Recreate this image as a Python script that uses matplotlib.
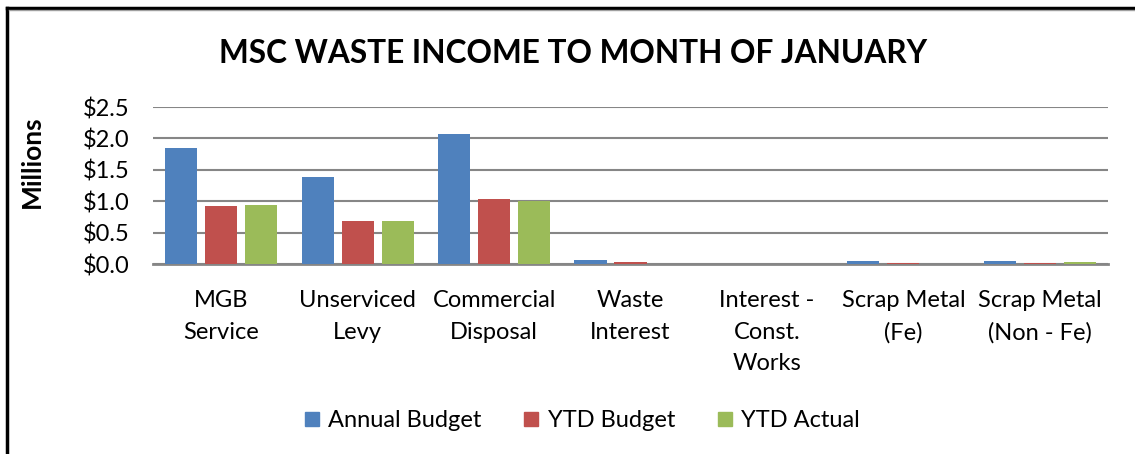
import matplotlib.pyplot as plt
import numpy as np
from matplotlib.lines import Line2D

plt.rcParams['font.family'] = ['Lato', 'DejaVu Sans']

categories = ["MGB\nService", "Unserviced\nLevy", "Commercial\nDisposal", "Waste\nInterest",
              "Interest -\nConst.\nWorks", "Scrap Metal\n(Fe)", "Scrap Metal\n(Non - Fe)"]
annual_budget = [1.85, 1.39, 2.07, 0.06, 0.0, 0.04, 0.04]
ytd_budget = [0.92, 0.69, 1.04, 0.035, 0.0, 0.02, 0.02]
ytd_actual = [0.94, 0.69, 1.00, 0.0, 0.0, 0.0, 0.035]
series_names = ["Annual Budget", "YTD Budget", "YTD Actual"]
colors = ["#4f81bd", "#c0504d", "#9bbb59"]
yticks = [0.0, 0.5, 1.0, 1.5, 2.0, 2.5]

fig = plt.figure(figsize=(11.35, 4.54), dpi=100)
ax = fig.add_axes([0.1348, 0.4185, 0.8414, 0.3458])

x = np.arange(len(categories))
step = 0.293
width = 0.235
for i, (vals, name, c) in enumerate(zip([annual_budget, ytd_budget, ytd_actual], series_names, colors)):
    ax.bar(x + (i - 1) * step, vals, width=width, color=c, linewidth=0, label=name, zorder=3)

ax.set_xlim(-0.5, len(categories) - 0.5)
ax.set_ylim(0, 2.5)
ax.set_yticks(yticks)
ax.set_yticklabels([f"${v:.1f}" for v in yticks], fontsize=17)
ax.set_xticks(x)
ax.set_xticklabels(categories, fontsize=17, linespacing=1.62, va="top")
ax.tick_params(axis="y", length=0, pad=17)
ax.tick_params(axis="x", length=0, pad=19)
ax.grid(axis="y", color="#868686", linewidth=1.5, zorder=0)
for s in ["top", "right", "left"]:
    ax.spines[s].set_visible(False)
ax.spines["bottom"].set_color("#868686")
ax.spines["bottom"].set_linewidth(2)
ax.set_ylabel("Millions", fontsize=19, fontweight="bold", va="center")
ax.yaxis.set_label_coords(-0.127, 0.65)

fig.text(0.505, 0.882, "MSC WASTE INCOME TO MONTH OF JANUARY", fontsize=22.8, fontweight="bold",
         ha="center", va="center")

handles = [Line2D([], [], marker="s", linestyle="", markersize=10, color=c) for c in colors]
fig.legend(handles, series_names, loc="center", bbox_to_anchor=(0.51, 0.073), ncol=3,
           frameon=False, fontsize=17, handletextpad=0.1, columnspacing=1.5, handlelength=1.2)

# chart border
fig.add_artist(Line2D([0.0066, 0.0066], [0, 0.983], color="black", linewidth=2.5, transform=fig.transFigure))
fig.add_artist(Line2D([0.0066, 1.0], [0.983, 0.983], color="black", linewidth=2.5, transform=fig.transFigure))
fig.add_artist(Line2D([0.008, 1.0], [0.979, 0.979], color="#a0a0a0", linewidth=1, transform=fig.transFigure))

fig.savefig("out.png", dpi=100)
